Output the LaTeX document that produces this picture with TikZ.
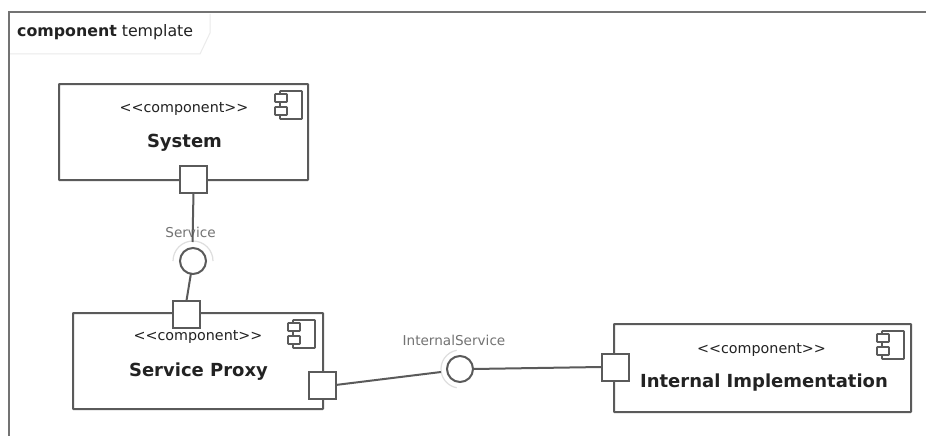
\documentclass[tikz,border=0pt]{standalone}
\usepackage{fontspec}
\setmainfont{DejaVu Sans}
\definecolor{ln}{HTML}{5A5A5A}
\definecolor{tx}{HTML}{222222}
\tikzset{x=1pt,y=-1pt,
 comp/.style={draw=ln,line width=2pt,fill=white,rounded corners=0.5pt,inner sep=0pt,outer sep=0pt},
 portbox/.style={draw=ln,line width=2pt,fill=white,minimum size=27pt,inner sep=0pt,outer sep=0pt},
 iface/.style={circle,draw=ln,line width=2pt,fill=white,minimum size=26pt,inner sep=0pt,outer sep=0pt},
 conn/.style={draw=ln,line width=2pt},
 halo/.style={draw=black!13,line width=1.2pt},
 stereo/.style={text=tx,font=\fontsize{14.3}{16}\selectfont,inner sep=0pt},
 cname/.style={text=tx,font=\fontsize{18}{21}\bfseries\selectfont,inner sep=0pt},
 iname/.style={text=black!55,font=\fontsize{13.6}{16}\selectfont,inner sep=0pt},
 icon/.style={draw=ln,line width=1.6pt,fill=white,rounded corners=0.5pt},
}
\newcommand{\compicon}[2]{%
 \draw[icon] (#1+5,#2) rectangle (#1+27,#2+28);
 \draw[icon] (#1,#2+3) rectangle (#1+12,#2+11);
 \draw[icon] (#1,#2+16) rectangle (#1+12,#2+24);
}
\begin{document}
\begin{tikzpicture}
\useasboundingbox (0,0) rectangle (926,436);
\fill[white] (0,0) rectangle (926,436);
% frame
\draw[draw=black!55,line width=2pt] (9,436) -- (9,12.5) -- (926,12.5);
\draw[draw=black!8,line width=1pt] (210,14) -- (210,33) -- (200,54) -- (10,54);
\node[anchor=west,font=\fontsize{15.8}{18}\selectfont,text=tx,inner sep=0pt] (title) at (17,32) {\textbf{component} template};
% components
\node[comp,minimum width=249pt,minimum height=96pt] (sys) at (183.5,132) {};
\node[comp,minimum width=250pt,minimum height=96pt] (proxy) at (198,361) {};
\node[comp,minimum width=297pt,minimum height=88pt] (impl) at (762.5,368) {};
\compicon{275}{91}
\compicon{288}{320}
\compicon{877}{331}
\node[stereo] (s1) at (184,108.5) {{<}{<}component{>}{>}};
\node[cname] (n1) at (184.5,143) {System};
\node[stereo] (s2) at (198,336.5) {{<}{<}component{>}{>}};
\node[cname] (n2) at (198.5,372) {Service Proxy};
\node[stereo] (s3) at (761.5,349.5) {{<}{<}component{>}{>}};
\node[cname] (n3) at (764,383) {Internal Implementation};
% interface labels
\node[iname] (l1) at (190.5,232) {Service};
\node[iname] (l2) at (454,340) {InternalService};
% ports
\node[portbox] (p1) at (193.5,179) {};
\node[portbox] (p2) at (186.5,314) {};
\node[portbox] (p3) at (322,385) {};
\node[portbox] (p4) at (615,367) {};
% halos
\draw[halo] (193,261) ++(180:20) arc[start angle=180,end angle=360,radius=20];
\draw[halo] (460,369) ++(260:19) arc[start angle=260,end angle=100,radius=19];
% interfaces
\node[iface] (i1) at (193,261) {};
\node[iface] (i2) at (460,369) {};
% connector ends at the halos
\coordinate (h1) at (192.5,242);
\coordinate (h2) at (441,372);
% connectors
\draw[conn] (p1.south) -- (h1);
\draw[conn] (i1) -- (p2.north);
\draw[conn] (p3.east) -- (h2);
\draw[conn] (i2.east) -- (p4.west);
\end{tikzpicture}
\end{document}
